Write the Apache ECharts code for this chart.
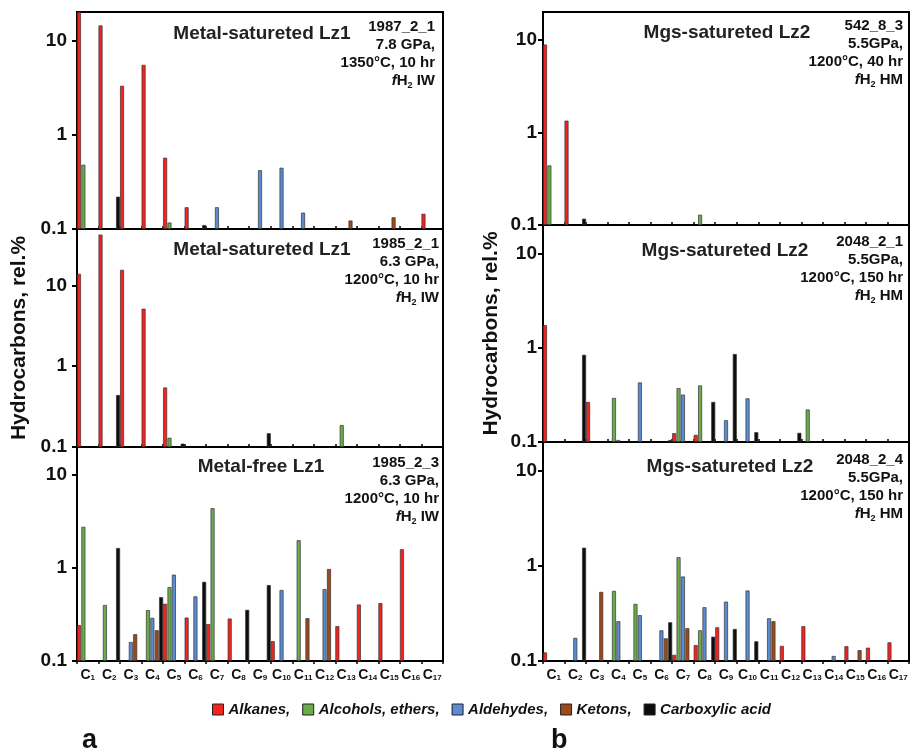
<!DOCTYPE html>
<html>
<head lang="en">
    <meta charset="UTF-8">
    <title>Hydrocarbons | rel.%</title>
    <script src="https://cdn.jsdelivr.net/npm/echarts@6/dist/echarts.min.js"></script>
    <style>
        html, body { margin: 0; padding: 0; background: #fff; }
        #chart { width: 914px; height: 749px; }
    </style>
</head>
<body>

<div id="chart"></div>

<script>
    var carbons = ['C1', 'C2', 'C3', 'C4', 'C5', 'C6', 'C7', 'C8', 'C9', 'C10', 'C11', 'C12', 'C13', 'C14', 'C15', 'C16', 'C17'];
    var seriesNames = ['Alkanes', 'Alcohols, ethers', 'Aldehydes', 'Ketons', 'Carboxylic acid'];
    var seriesColors = ['#f5231f', '#6aac4c', '#5a8cd4', '#9c4a18', '#0d0d0d'];
    var yTicks = [0.1, 1, 10];

    // a: 1987_2_1, Metal-satureted Lz1
    var a1Alkanes = [20, 14.4, 3.3, 5.5, 0.57, 0.17, null, null, null, null, null, null, null, null, null, null, 0.145];
    var a1Alcohols = [0.48, null, null, null, 0.117, null, null, null, null, null, null, null, null, null, null, null, null];
    var a1Aldehydes = [null, null, null, null, null, null, 0.17, null, 0.42, 0.446, 0.149, null, null, null, null, null, null];
    var a1Ketons = [null, null, null, null, null, null, null, null, null, null, null, null, 0.123, null, 0.133, null, null];
    var a1Acids = [null, 0.22, null, null, null, 0.11, null, null, null, null, null, null, null, null, null, null, null];

    // a: 1985_2_1, Metal-satureted Lz1
    var a2Alkanes = [13.9, 42.6, 15.6, 5.15, 0.545, null, null, null, null, null, null, null, null, null, null, null, null];
    var a2Alcohols = [null, null, null, null, 0.13, null, null, null, null, null, null, null, 0.187, null, null, null, null];
    var a2Aldehydes = [null, null, null, null, null, null, null, null, null, null, null, null, null, null, null, null, null];
    var a2Ketons = [null, null, null, null, null, null, null, null, null, null, null, null, null, null, null, null, null];
    var a2Acids = [null, 0.44, null, null, 0.11, null, null, null, 0.148, null, null, null, null, null, null, null, null];

    // a: 1985_2_3, Metal-free Lz1
    var a3Alkanes = [0.243, null, null, null, 0.412, 0.293, 0.249, 0.286, null, 0.163, null, null, 0.237, 0.405, 0.419, 1.59, null];
    var a3Alcohols = [2.77, 0.40, null, 0.352, 0.624, null, 4.4, null, null, null, 1.99, null, null, null, null, null, null];
    var a3Aldehydes = [null, null, 0.16, 0.291, 0.848, 0.495, null, null, null, 0.58, null, 0.593, null, null, null, null, null];
    var a3Ketons = [null, null, 0.194, 0.214, null, null, null, null, null, null, 0.289, 0.975, null, null, null, null, null];
    var a3Acids = [null, 1.64, null, 0.486, null, 0.71, null, 0.355, 0.655, null, null, null, null, null, null, null, null];

    // b: 542_8_3, Mgs-satureted Lz2
    var b1Alkanes = [8.9, 1.34, null, null, null, null, null, null, null, null, null, null, null, null, null, null, null];
    var b1Alcohols = [0.44, null, null, null, null, null, null, 0.129, null, null, null, null, null, null, null, null, null];
    var b1Aldehydes = [null, null, null, null, null, null, null, null, null, null, null, null, null, null, null, null, null];
    var b1Ketons = [null, null, null, null, null, null, null, null, null, null, null, null, null, null, null, null, null];
    var b1Acids = [null, 0.117, null, null, null, null, null, null, null, null, null, null, null, null, null, null, null];

    // b: 2048_2_1, Mgs-satureted Lz2
    var b2Alkanes = [1.73, null, 0.266, null, null, null, 0.124, 0.119, null, null, null, null, null, null, null, null, null];
    var b2Alcohols = [null, null, null, 0.293, null, null, 0.373, 0.398, null, null, null, null, 0.221, null, null, null, null];
    var b2Aldehydes = [null, null, null, 0.105, 0.428, null, 0.318, null, 0.17, 0.29, null, null, null, null, null, null, null];
    var b2Ketons = [null, null, null, null, null, null, null, null, null, null, null, null, null, null, null, null, null];
    var b2Acids = [null, 0.84, null, null, null, 0.105, null, 0.266, 0.857, 0.127, null, 0.125, null, null, null, null, null];

    // b: 2048_2_4, Mgs-satureted Lz2
    var b3Alkanes = [0.123, null, null, null, null, null, 0.116, 0.147, 0.226, null, null, 0.144, 0.232, null, 0.143, 0.138, 0.157];
    var b3Alcohols = [null, null, null, 0.545, 0.398, null, 1.23, 0.21, null, null, null, null, null, null, null, null, null];
    var b3Aldehydes = [null, 0.175, null, 0.262, 0.303, 0.21, 0.772, 0.367, 0.42, 0.55, 0.281, null, null, 0.113, null, null, null];
    var b3Ketons = [null, null, 0.532, null, null, 0.173, 0.221, null, null, null, 0.262, null, null, null, 0.13, null, null];
    var b3Acids = [null, 1.55, null, null, null, 0.255, null, 0.18, 0.217, 0.161, null, null, null, null, null, null, null];

    var FONT = "'Liberation Sans', Arial, sans-serif";

    var panels = [
        {grid: {left: 77, top: 12, width: 366, height: 217}, max: 20, bottom: false, side: 'a',
            data: [a1Alkanes, a1Alcohols, a1Aldehydes, a1Ketons, a1Acids],
            title: 'Metal-satureted Lz1', tx: 262, ty: 34, ix: 435, iy: 54,
            info: ['1987_2_1', '7.8 GPa,', '1350°C, 10 hr', 'IW']},
        {grid: {left: 77, top: 229, width: 366, height: 218}, max: 50, bottom: false, side: 'a', yName: true,
            data: [a2Alkanes, a2Alcohols, a2Aldehydes, a2Ketons, a2Acids],
            title: 'Metal-satureted Lz1', tx: 262, ty: 250, ix: 439, iy: 271,
            info: ['1985_2_1', '6.3 GPa,', '1200°C, 10 hr', 'IW']},
        {grid: {left: 77, top: 447, width: 366, height: 214}, max: 20, bottom: true, side: 'a',
            data: [a3Alkanes, a3Alcohols, a3Aldehydes, a3Ketons, a3Acids],
            title: 'Metal-free Lz1', tx: 261, ty: 467, ix: 439, iy: 490,
            info: ['1985_2_3', '6.3 GPa,', '1200°C, 10 hr', 'IW']},
        {grid: {left: 543, top: 12, width: 366, height: 213}, max: 20, bottom: false, side: 'b',
            data: [b1Alkanes, b1Alcohols, b1Aldehydes, b1Ketons, b1Acids],
            title: 'Mgs-satureted Lz2', tx: 727, ty: 33, ix: 903, iy: 53,
            info: ['542_8_3', '5.5GPa,', '1200°C, 40 hr', 'HM']},
        {grid: {left: 543, top: 225, width: 366, height: 217}, max: 20, bottom: false, side: 'b', yName: true,
            data: [b2Alkanes, b2Alcohols, b2Aldehydes, b2Ketons, b2Acids],
            title: 'Mgs-satureted Lz2', tx: 725, ty: 251, ix: 903, iy: 269,
            info: ['2048_2_1', '5.5GPa,', '1200°C, 150 hr', 'HM']},
        {grid: {left: 543, top: 442, width: 366, height: 219}, max: 20, bottom: true, side: 'b',
            data: [b3Alkanes, b3Alcohols, b3Aldehydes, b3Ketons, b3Acids],
            title: 'Mgs-satureted Lz2', tx: 730, ty: 467, ix: 903, iy: 487,
            info: ['2048_2_4', '5.5GPa,', '1200°C, 150 hr', 'HM']}
    ];

    var infoRich = {
        b: {fontSize: 15, fontWeight: 'bold', color: '#111', lineHeight: 18, fontFamily: FONT},
        i: {fontSize: 15, fontWeight: 'bold', fontStyle: 'italic', color: '#111', lineHeight: 18, fontFamily: FONT},
        s: {fontSize: 9, fontWeight: 'bold', color: '#111', lineHeight: 11, verticalAlign: 'bottom', fontFamily: FONT}
    };

    var grids = [], xAxes = [], yAxes = [], series = [], titles = [];

    panels.forEach(function (p, i) {
        grids.push({
            left: p.grid.left, top: p.grid.top, width: p.grid.width, height: p.grid.height,
            show: true, borderColor: '#000', borderWidth: 2, backgroundColor: 'transparent'
        });

        xAxes.push({
            type: 'category', gridIndex: i, data: carbons,
            axisLine: {show: true, lineStyle: {color: '#000', width: 2}},
            axisTick: {show: true, inside: !p.bottom, length: 3, lineStyle: {color: '#000', width: 1.5}},
            axisLabel: {
                show: p.bottom, margin: 7, interval: 0,
                formatter: function (v) { return '{c|C}{s|' + v.slice(1) + '}'; },
                rich: {
                    c: {fontSize: 14, fontWeight: 'bold', color: '#111', fontFamily: FONT, lineHeight: 14},
                    s: {fontSize: 8, fontWeight: 'bold', color: '#111', fontFamily: FONT, lineHeight: 8, verticalAlign: 'bottom'}
                }
            },
            splitLine: {show: false}
        });

        var left = p.side === 'a';
        yAxes.push({
            type: 'log', logBase: 10, gridIndex: i, min: 0.1, max: p.max, startValue: 0.1,
            axisLine: {show: true, lineStyle: {color: '#000', width: 2}},
            axisTick: {show: true, length: 5, customValues: yTicks, lineStyle: {color: '#000', width: 2}},
            axisLabel: {customValues: yTicks, margin: left ? 10 : 6, fontSize: 19, fontWeight: 'bold', color: '#111', fontFamily: FONT},
            splitLine: {show: false},
            minorTick: {show: false},
            name: p.yName ? 'Hydrocarbons, rel.%' : '',
            nameLocation: 'middle',
            nameGap: left ? 47 : 41,
            nameTextStyle: {fontSize: 21, fontWeight: 'bold', color: '#111', fontFamily: FONT}
        });

        p.data.forEach(function (values, k) {
            series.push({
                type: 'bar', name: seriesNames[k], xAxisIndex: i, yAxisIndex: i, data: values,
                barGap: '10%', barCategoryGap: '0%',
                itemStyle: {color: seriesColors[k], borderColor: '#333', borderWidth: 0.7}
            });
        });

        titles.push({
            text: p.title, left: p.tx, top: p.ty, textAlign: 'center', textVerticalAlign: 'middle', padding: 0,
            textStyle: {fontSize: 19, fontWeight: 'bold', color: '#222', fontFamily: FONT}
        });
        titles.push({
            text: '{b|' + p.info[0] + '}\n{b|' + p.info[1] + '}\n{b|' + p.info[2] + '}\n{i|f}{b|H}{s|2}{b| ' + p.info[3] + '}',
            left: p.ix, top: p.iy, textAlign: 'right', textVerticalAlign: 'middle', padding: 0,
            textStyle: {fontSize: 15, fontWeight: 'bold', color: '#111', lineHeight: 18, fontFamily: FONT, rich: infoRich}
        });
    });

    titles.push({text: 'a', left: 82, top: 741, textVerticalAlign: 'middle', padding: 0,
        textStyle: {fontSize: 27, fontWeight: 'bold', color: '#111', fontFamily: FONT}});
    titles.push({text: 'b', left: 551, top: 741, textVerticalAlign: 'middle', padding: 0,
        textStyle: {fontSize: 27, fontWeight: 'bold', color: '#111', fontFamily: FONT}});

    var chart = echarts.init(document.getElementById('chart'));
    chart.setOption({
        animation: false,
        textStyle: {fontFamily: FONT},
        title: titles,
        legend: {
            data: seriesNames, left: 207, top: 697, itemWidth: 11, itemHeight: 11, itemGap: 12, icon: 'rect',
            selectedMode: false,
            formatter: function (n) { return n === 'Carboxylic acid' ? n : n + ','; },
            itemStyle: {borderColor: '#222', borderWidth: 1},
            textStyle: {fontSize: 15, fontWeight: 'bold', fontStyle: 'italic', color: '#111', fontFamily: FONT}
        },
        grid: grids,
        xAxis: xAxes,
        yAxis: yAxes,
        series: series
    });
</script>
</body>
</html>
